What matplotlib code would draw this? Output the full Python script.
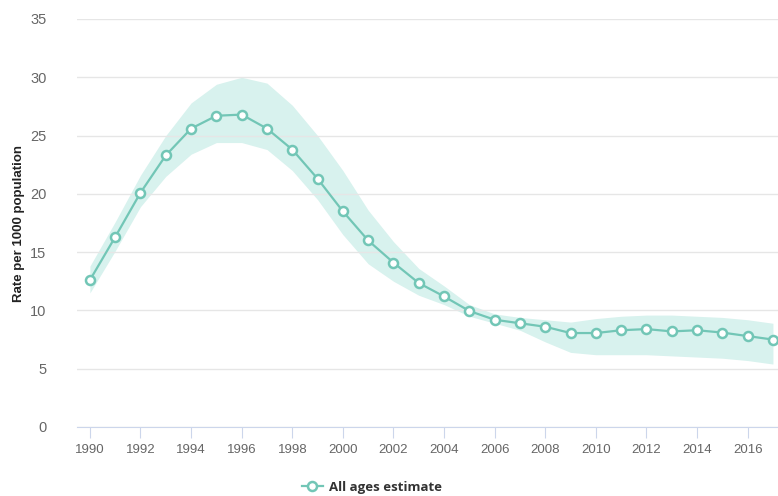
import matplotlib
matplotlib.use("Agg")
import matplotlib.pyplot as plt
from matplotlib.lines import Line2D

years = list(range(1990, 2018))
estimate = [12.6, 16.3, 20.1, 23.3, 25.6, 26.7, 26.8, 25.6, 23.8, 21.3,
            18.5, 16.0, 14.1, 12.35, 11.2, 9.95, 9.2, 8.9, 8.6, 8.06,
            8.06, 8.3, 8.4, 8.2, 8.3, 8.1, 7.8, 7.5]
upper = [13.8, 17.6, 21.6, 25.0, 27.8, 29.4, 30.0, 29.5, 27.6, 25.0,
         22.0, 18.6, 15.9, 13.6, 12.1, 10.5, 9.7, 9.4, 9.2, 9.0,
         9.3, 9.5, 9.6, 9.6, 9.5, 9.4, 9.2, 8.9]
lower = [11.5, 15.1, 18.9, 21.5, 23.4, 24.4, 24.4, 23.8, 22.0, 19.5,
         16.5, 14.0, 12.5, 11.3, 10.5, 9.5, 8.9, 8.3, 7.3, 6.4,
         6.2, 6.2, 6.2, 6.1, 6.0, 5.9, 5.7, 5.4]
yticks = [0, 5, 10, 15, 20, 25, 30, 35]
xticks = list(range(1990, 2018, 2))

line_col = "#72c6b6"
band_col = "#d8f2ee"

fig = plt.figure(figsize=(7.78, 4.96), dpi=100)
ax = fig.add_axes([77 / 778, 1 - 427 / 496, 1 - 77 / 778, (427 - 19) / 496])

ax.fill_between(years, lower, upper, color=band_col, lw=0, zorder=1)
ax.plot(years, estimate, color=line_col, lw=1.6, marker="o", ms=6.5,
        mfc="white", mec=line_col, mew=1.8, zorder=3, clip_on=False)

ax.set_xlim(1989.49, 2017.2)
ax.set_ylim(0, 35)
ax.set_yticks(yticks)
ax.set_xticks(xticks)
ax.grid(axis="y", color="#e6e6e6", lw=1, zorder=0)
for s in ["top", "right", "left"]:
    ax.spines[s].set_visible(False)
ax.spines["bottom"].set_color("#ccd6eb")
ax.tick_params(axis="y", length=0, pad=22, labelsize=10.5, labelcolor="#666666")
ax.tick_params(axis="x", length=8, color="#ccd6eb", pad=4, labelsize=9.5,
               labelcolor="#666666")
for lab in ax.get_xticklabels() + ax.get_yticklabels():
    lab.set_family("Liberation Sans")
ax.set_ylabel("Rate per 1000 population", family="Liberation Sans",
              fontweight="bold", fontsize=9.5, color="#222222", labelpad=4)

handle = Line2D([], [], color=line_col, lw=1.6, marker="o", ms=6.5, mfc="white",
                mec=line_col, mew=1.8)
fig.legend([handle], ["All ages estimate"], loc="center",
           bbox_to_anchor=(372 / 778, 1 - 487 / 496), frameon=False,
           prop={"family": "Open Sans", "weight": "bold", "size": 9.5},
           handlelength=1.6, handletextpad=0.5, labelcolor="#333333")

fig.savefig("out.png", dpi=100)
